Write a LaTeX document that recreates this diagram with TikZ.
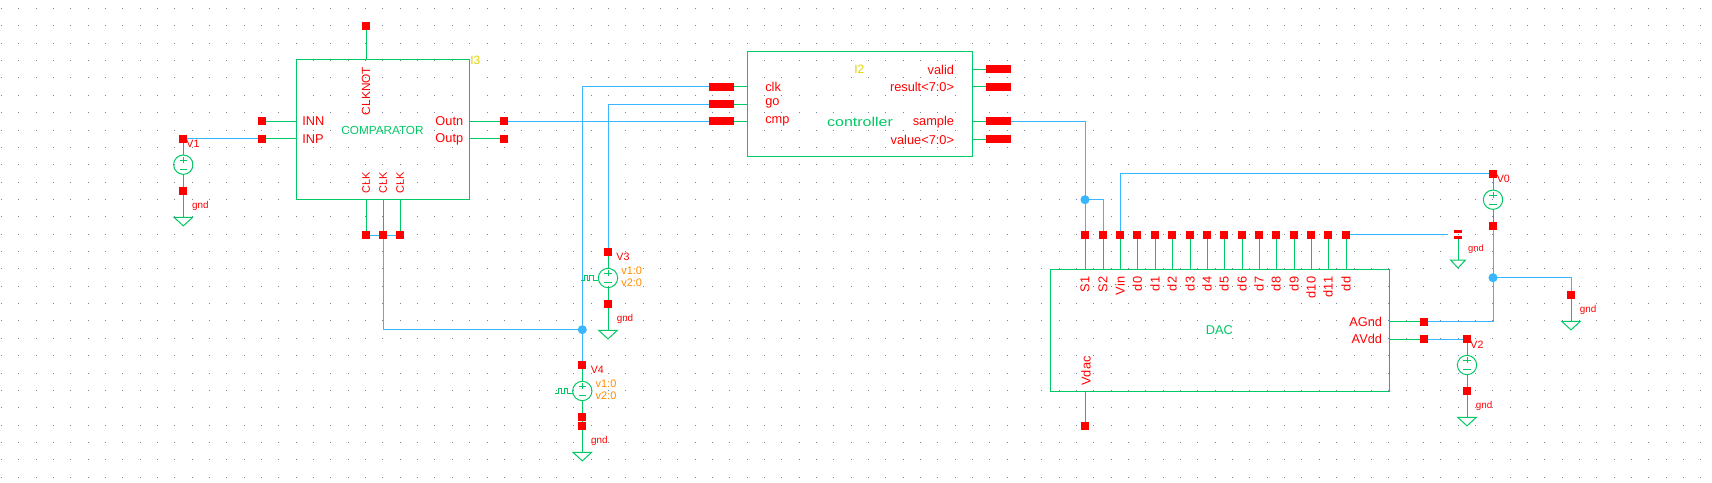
\documentclass[tikz,border=0pt]{standalone}
\usepackage{fontspec}
\setmainfont{Liberation Sans}
\usetikzlibrary{backgrounds}
\definecolor{wiregreen}{RGB}{0,200,100}
\definecolor{wireblue}{RGB}{56,182,255}
\definecolor{griddot}{RGB}{128,128,165}
\definecolor{instyellow}{RGB}{224,208,0}
\definecolor{paramorange}{RGB}{255,140,0}
\newcommand{\pxfont}[1]{\fontsize{#1}{#1}\selectfont}
\tikzset{
  gw/.style={draw=wiregreen,line width=.75pt},
  bw/.style={draw=wireblue,line width=.75pt},
  boxs/.style={draw=wiregreen,line width=.75pt,rectangle,inner sep=0pt,outer sep=0pt},
  pinn/.style={rectangle,fill=red,inner sep=0pt,outer sep=0pt,minimum width=6pt,minimum height=6pt},
  pinw/.style={rectangle,fill=red,inner sep=0pt,outer sep=0pt,minimum width=18.75pt,minimum height=6pt},
  srcs/.style={circle,draw=wiregreen,line width=.75pt,inner sep=0pt,outer sep=0pt,minimum size=14.5pt},
  junc/.style={circle,fill=wireblue,inner sep=0pt,outer sep=0pt,minimum size=6.8pt},
  lab/.style={text=red,inner sep=0pt,font=\pxfont{9.6}},
  labs/.style={text=red,inner sep=0pt,font=\pxfont{7.4}},
  parm/.style={text=paramorange,inner sep=0pt,font=\pxfont{8.2}},
  cell/.style={text=wiregreen,inner sep=0pt,font=\pxfont{9}},
  inst/.style={text=instyellow,inner sep=0pt,font=\pxfont{9}},
}
% #1 name, #2 position: voltage source with its + and - marks
\newcommand{\vsource}[2]{%
  \node[srcs] (#1) at (#2) {};
  \draw[gw] (#1.center) ++(-3.7,-4.7) -- ++(7.4,0) ++(-3.7,-3) -- ++(0,6);
  \draw[gw] (#1.center) ++(-3.7,4.7) -- ++(7.4,0);
}
% #1 coordinate name, #2 position: ground triangle
\newcommand{\gndsym}[2]{%
  \coordinate (#1) at (#2);
  \draw[gw] (#1) ++(-9.3,0) -- ++(18.6,0) -- ++(-9.3,8.6) -- cycle;
}
% #1 source name: pulse mark entering the source from the left
\newcommand{\pulsemark}[1]{%
  \draw[gw] (#1.west) ++(0,2.7) -- ++(-5,0) -- ++(0,-5.4) -- ++(-3.4,0) -- ++(0,5.4) -- ++(-2.4,0) -- ++(0,-5.4) -- ++(-3.4,0) -- ++(0,5.4) -- ++(-3.4,0);
}
\begin{document}
\begin{tikzpicture}[x=.75pt,y=-.75pt]
\useasboundingbox (0,0) rectangle (1712,482);
% ---- blocks
\node[boxs,minimum width=130.1pt,minimum height=104.5pt] (comp) at (382.75,129.65) {};
\node[boxs,minimum width=168.75pt,minimum height=78.45pt] (ctrl) at (859.8,104) {};
\node[boxs,minimum width=254.25pt,minimum height=91.3pt] (dac) at (1219.8,330.15) {};
% ---- comparator pins
\node[pinn] (inn) at (262,121) {};
\node[pinn] (inp) at (262,138.7) {};
\node[pinn] (clknot) at (366,26) {};
\node[pinn] (outn) at (504,121) {};
\node[pinn] (outp) at (504,138.7) {};
\node[pinn] (clka) at (366,235) {};
\node[pinn] (clkb) at (383,235) {};
\node[pinn] (clkc) at (400,235) {};
% ---- controller pins
\node[pinw] (cclk) at (721.5,86.5) {};
\node[pinw] (cgo) at (721.5,104) {};
\node[pinw] (ccmp) at (721.5,121) {};
\node[pinw] (cvalid) at (998.3,69) {};
\node[pinw] (cresult) at (998.3,86.7) {};
\node[pinw] (csample) at (998.3,121) {};
\node[pinw] (cvalue) at (998.3,139) {};
% ---- DAC pins
\node[pinn] (ds1) at (1085,234.8) {};
\node[pinn] (ds2) at (1103,234.8) {};
\node[pinn] (dvin) at (1120,234.8) {};
\node[pinn] (dd0) at (1137.3,234.8) {};
\node[pinn] (dd1) at (1155,234.8) {};
\node[pinn] (dd2) at (1172,234.8) {};
\node[pinn] (dd3) at (1190,234.8) {};
\node[pinn] (dd4) at (1207,234.8) {};
\node[pinn] (dd5) at (1224,234.8) {};
\node[pinn] (dd6) at (1242,234.8) {};
\node[pinn] (dd7) at (1259,234.8) {};
\node[pinn] (dd8) at (1276,234.8) {};
\node[pinn] (dd9) at (1294,234.8) {};
\node[pinn] (dd10) at (1311,234.8) {};
\node[pinn] (dd11) at (1328,234.8) {};
\node[pinn] (ddd) at (1346,234.8) {};
\node[pinn] (dagnd) at (1424,321.7) {};
\node[pinn] (davdd) at (1424,339) {};
\node[pinn] (dvdac) at (1085,425.7) {};
% ---- sources
\node[pinn] (v1t) at (183.3,138.7) {};
\vsource{v1}{183.3,164.7}
\node[pinn] (v1b) at (183.3,190.7) {};
\gndsym{g1}{183.3,217.3}
\node[pinn] (v3t) at (608,251.7) {};
\vsource{v3}{608,278}
\node[pinn] (v3b) at (608,303.7) {};
\gndsym{g3}{608,330.3}
\pulsemark{v3}
\node[pinn] (v4t) at (582.3,364.7) {};
\vsource{v4}{582.3,391}
\node[pinn] (v4b) at (582.3,416.7) {};
\node[pinn] (v4g) at (582.3,425.7) {};
\gndsym{g4}{582.3,452.3}
\pulsemark{v4}
\node[pinn] (v0t) at (1493,173.7) {};
\vsource{v0}{1493,199.7}
\node[pinn] (v0b) at (1493,226) {};
\node[pinn] (v2t) at (1467,339) {};
\vsource{v2}{1467,365}
\node[pinn] (v2b) at (1467,390.7) {};
\gndsym{g2}{1467,417.3}
% ---- free ground pins
\node[pinn] (gr) at (1571,295) {};
\gndsym{g5}{1571,321.3}
\node[rectangle,fill=red,inner sep=0pt,minimum width=6pt,minimum height=2pt] (nct) at (1458,231.2) {};
\node[rectangle,fill=red,inner sep=0pt,minimum width=6pt,minimum height=2.2pt] (ncb) at (1458,237.2) {};
\coordinate (g6) at (1458,260);
\draw[gw] (g6) ++(-7.5,0) -- ++(15,0) -- ++(-7.5,8) -- cycle;
\coordinate (ncend) at (1447.7,234.8);
% ---- junctions
\node[junc] (j1) at (582.3,329.7) {};
\node[junc] (j2) at (1085,199.7) {};
\node[junc] (j3) at (1493,277.7) {};
% ---- wires, grid
\begin{pgfonlayer}{background}
\foreach \k in {0,...,98}{\foreach \j in {0,...,27}{%
  \pgfmathsetmacro{\gx}{floor(1.5+17.34*\k)}%
  \pgfmathsetmacro{\gy}{floor(8.5+17.36*\j)}%
  \fill[griddot] (\gx,\gy) rectangle ++(1,1);}}
% green stubs
\draw[gw] (inn.center) -- (inn.center -| comp.west);
\draw[gw] (inp.center) -- (inp.center -| comp.west);
\draw[gw] (outn.center) -- (outn.center -| comp.east);
\draw[gw] (outp.center) -- (outp.center -| comp.east);
\draw[gw] (clknot.center) -- (clknot.center |- comp.north);
\foreach \p in {clka,clkb,clkc}{\draw[gw] (\p.center) -- (\p.center |- comp.south);}
\foreach \p in {cclk,cgo,ccmp}{\draw[gw] (\p.center) -- (\p.center -| ctrl.west);}
\foreach \p in {cvalid,cresult,csample,cvalue}{\draw[gw] (\p.center) -- (\p.center -| ctrl.east);}
\foreach \p in {ds1,ds2,dvin,dd0,dd1,dd2,dd3,dd4,dd5,dd6,dd7,dd8,dd9,dd10,dd11,ddd}{\draw[gw] (\p.center) -- (\p.center |- dac.north);}
\draw[gw] (dagnd.center) -- (dagnd.center -| dac.east);
\draw[gw] (davdd.center) -- (davdd.center -| dac.east);
\draw[gw] (dvdac.center) -- (dvdac.center |- dac.south);
% source leads
\foreach \s in {v1,v3,v4,v0,v2}{\draw[gw] (\s t.center) -- (\s.north); \draw[gw] (\s.south) -- (\s b.center);}
\draw[gw] (v1b.center) -- (g1);
\draw[gw] (v3b.center) -- (g3);
\draw[gw] (v4b.center) -- (v4g.center) -- (g4);
\draw[gw] (v2b.center) -- (g2);
\draw[gw] (gr.center) -- (g5);
\draw[gw] (ncb.center) -- (g6);
% blue nets
\draw[bw] (v1t.center) -- (inp.center);
\draw[bw] (outn.center) -- (ccmp.center);
\draw[bw] (clka.center) -- (clkc.center);
\draw[bw] (clkb.center) |- (j1.center);
\draw[bw] (v4t.center) -- (j1.center) |- (cclk.center);
\draw[bw] (v3t.center) |- (cgo.center);
\draw[bw] (csample.center) -| (ds1.center);
\draw[bw] (j2.center) -| (ds2.center);
\draw[bw] (dvin.center) |- (v0t.center);
\draw[bw] (ddd.center) -- (ncend);
\draw[bw] (v0b.center) -- (j3.center) |- (dagnd.center);
\draw[bw] (j3.center) -| (gr.center);
\draw[bw] (davdd.center) -- (v2t.center);
\end{pgfonlayer}
% ---- comparator labels
\node[lab,anchor=west] (tinn) at (302,121) {INN};
\node[lab,anchor=west] (tinp) at (302,138.7) {INP};
\node[lab,anchor=east] (toutn) at (463.5,121.5) {Outn};
\node[lab,anchor=east] (toutp) at (463.5,139) {Outp};
\node[lab,rotate=90,font=\pxfont{8.9}] (tclknot) at (366,91) {CLKNOT};
\node[lab,rotate=90,font=\pxfont{8.2}] (tclka) at (366,182.5) {CLK};
\node[lab,rotate=90,font=\pxfont{8.2}] (tclkb) at (383,182.5) {CLK};
\node[lab,rotate=90,font=\pxfont{8.2}] (tclkc) at (400,182.5) {CLK};
\node[cell,font=\pxfont{8.8}] (tcomp) at (382.5,130) {COMPARATOR};
\node[inst,anchor=west] (ti3) at (470,60.5) {I3};
% ---- controller labels
\node[lab,anchor=west] (tclk) at (765,87) {clk};
\node[lab,anchor=west] (tgo) at (765,103.5) {go};
\node[lab,anchor=west] (tcmp) at (765,121) {cmp};
\node[lab,anchor=east] (tvalid) at (954.3,70) {valid};
\node[lab,anchor=east] (tresult) at (954.3,87) {result<7:0>};
\node[lab,anchor=east] (tsample) at (954.3,122.5) {sample};
\node[lab,anchor=east] (tvalue) at (954.3,139.5) {value<7:0>};
\node[cell,font=\pxfont{9.6}] (tctrl) at (860,121.7) {\scalebox{1.25}[1]{controller}};
\node[inst] (ti2) at (859.3,69) {I2};
% ---- DAC labels
\foreach \p/\t in {ds1/S1,ds2/S2,dvin/Vin,dd0/d0,dd1/d1,dd2/d2,dd3/d3,dd4/d4,dd5/d5,dd6/d6,dd7/d7,dd8/d8,dd9/d9,dd10/d10,dd11/d11,ddd/dd}{%
  \node[lab,rotate=90,anchor=east] (t\p) at (\p.center |- 0,276.5) {\t};}
\node[lab,rotate=90] (tvdac) at (1086,371) {Vdac};
\node[lab,anchor=east] (tagnd) at (1382.3,321.7) {AGnd};
\node[lab,anchor=east] (tavdd) at (1382.3,339.3) {AVdd};
\node[cell,font=\pxfont{9.6}] (tdac) at (1219.3,330) {DAC};
% ---- source labels
\node[labs,font=\pxfont{8}] (tv1) at (193,143.7) {V1};
\node[labs] (tg1) at (200.3,206) {gnd};
\node[labs,font=\pxfont{8}] (tv3) at (623,256.7) {V3};
\node[parm] (tv3a) at (631.7,270.3) {v1:0};
\node[parm] (tv3b) at (631.7,283) {v2:0};
\node[labs] (tg3) at (625,319) {gnd};
\node[labs,font=\pxfont{8}] (tv4) at (597.3,370) {V4};
\node[parm] (tv4a) at (606,383.3) {v1:0};
\node[parm] (tv4b) at (606,396) {v2:0};
\node[labs] (tg4) at (599.3,441) {gnd};
\node[labs,font=\pxfont{8}] (tv0) at (1503.3,179.3) {V0};
\node[labs,font=\pxfont{8}] (tv2) at (1477,344.3) {V2};
\node[labs] (tg2) at (1484,406.3) {gnd};
\node[labs] (tg5) at (1588,310) {gnd};
\node[labs,font=\pxfont{7}] (tg6) at (1476,249) {gnd};
\end{tikzpicture}
\end{document}
